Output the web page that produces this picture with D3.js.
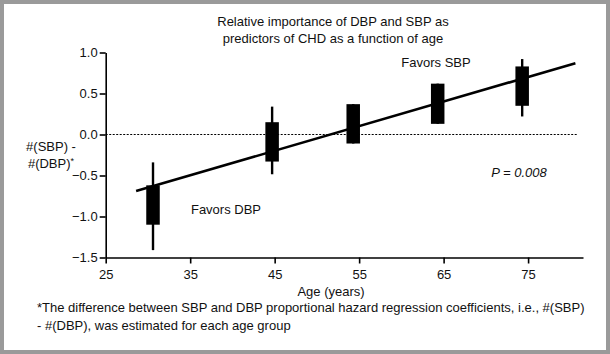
<!DOCTYPE html>
<html>
<head>
<meta charset="utf-8">
<script src="https://cdn.jsdelivr.net/npm/d3@7"></script>
<style>
    body { margin: 0; background: #fff; }
    text { font-family: "Liberation Sans", Arial, Helvetica, sans-serif; fill: #111; }
</style>
</head>
<body>
<div id="chart"></div>
<script>
// Age groups (midpoints) and the SBP - DBP coefficient difference
const ages = [30.6, 44.7, 54.3, 64.3, 74.3];
const boxLow = [-1.10, -0.33, -0.11, 0.13, 0.35];
const boxHigh = [-0.62, 0.15, 0.37, 0.62, 0.83];
const whiskerLow = [-1.41, -0.485, -0.11, 0.13, 0.22];
const whiskerHigh = [-0.34, 0.34, 0.37, 0.62, 0.92];

// Fitted trend line end points
const trendAges = [28.6, 80.6];
const trendValues = [-0.69, 0.87];

const xTicks = [25, 35, 45, 55, 65, 75];
const yTicks = [1.0, 0.5, 0.0, -0.5, -1.0, -1.5];

function main() {
    const width = 610, height = 354;
    const fontSize = "13px";

    const svg = d3.select("#chart")
        .append("svg")
        .attr("width", width)
        .attr("height", height);

    // Grey frame
    svg.append("rect")
        .attr("x", 2).attr("y", 2)
        .attr("width", width - 4).attr("height", height - 4)
        .attr("fill", "none")
        .attr("stroke", "#9a9a9a")
        .attr("stroke-width", 4);

    const x = d3.scaleLinear().domain([25, 81.5]).range([105.7, 583]);
    const y = d3.scaleLinear().domain([-1.5, 1.0]).range([257.5, 52.5]);

    // X axis
    const xAxis = svg.append("g")
        .attr("transform", `translate(0, ${y(-1.5)})`)
        .call(d3.axisBottom(x).tickValues(xTicks).tickSize(6).tickPadding(6).tickSizeOuter(0));
    // Y axis
    const yAxis = svg.append("g")
        .attr("transform", `translate(${x(25)}, 0)`)
        .call(d3.axisLeft(y).tickValues(yTicks).tickSize(6).tickPadding(2).tickSizeOuter(0)
            .tickFormat(d => d3.format(".1f")(d).replace("-", "\u2212")));

    [xAxis, yAxis].forEach(ax => {
        ax.select(".domain").attr("stroke", "#000").attr("stroke-width", 1.6);
        ax.selectAll(".tick line").attr("stroke", "#000").attr("stroke-width", 1.6);
        ax.selectAll(".tick text")
            .style("font-family", "'Liberation Sans', Arial, sans-serif")
            .style("font-size", fontSize)
            .attr("fill", "#111");
    });

    // Dotted zero line
    svg.append("line")
        .attr("x1", x(25)).attr("x2", 578)
        .attr("y1", y(0)).attr("y2", y(0))
        .attr("stroke", "#000")
        .attr("stroke-width", 1.2)
        .style("stroke-dasharray", "2,1.5");

    // Trend line
    svg.append("line")
        .attr("x1", x(trendAges[0])).attr("y1", y(trendValues[0]))
        .attr("x2", x(trendAges[1])).attr("y2", y(trendValues[1]))
        .attr("stroke", "#000")
        .attr("stroke-width", 2.6);

    const groups = ages.map((a, i) => ({
        age: a, lo: boxLow[i], hi: boxHigh[i], wlo: whiskerLow[i], whi: whiskerHigh[i]
    }));

    // Whiskers
    svg.append("g")
        .selectAll("line")
        .data(groups)
        .join("line")
        .attr("x1", d => x(d.age)).attr("x2", d => x(d.age))
        .attr("y1", d => y(d.whi)).attr("y2", d => y(d.wlo))
        .attr("stroke", "#000")
        .attr("stroke-width", 2.4);

    // Boxes
    const boxW = 13.5;
    svg.append("g")
        .selectAll("rect")
        .data(groups)
        .join("rect")
        .attr("x", d => x(d.age) - boxW / 2)
        .attr("width", boxW)
        .attr("y", d => y(d.hi))
        .attr("height", d => y(d.lo) - y(d.hi))
        .attr("fill", "#000");

    // Title
    svg.append("text")
        .attr("x", 333).attr("y", 26)
        .attr("text-anchor", "middle")
        .style("font-size", fontSize)
        .text("Relative importance of DBP and SBP as");
    svg.append("text")
        .attr("x", 333).attr("y", 43)
        .attr("text-anchor", "middle")
        .style("font-size", fontSize)
        .text("predictors of CHD as a function of age");

    // Annotations
    svg.append("text")
        .attr("x", 436).attr("y", 67)
        .attr("text-anchor", "middle")
        .style("font-size", fontSize)
        .text("Favors SBP");
    svg.append("text")
        .attr("x", 226).attr("y", 214)
        .attr("text-anchor", "middle")
        .style("font-size", fontSize)
        .text("Favors DBP");
    svg.append("text")
        .attr("x", 519).attr("y", 177)
        .attr("text-anchor", "middle")
        .style("font-size", fontSize)
        .style("font-style", "italic")
        .text("P = 0.008");

    // Y axis label
    svg.append("text")
        .attr("x", 51).attr("y", 151)
        .attr("text-anchor", "middle")
        .style("font-size", fontSize)
        .text("#(SBP) -");
    const yl2 = svg.append("text")
        .attr("x", 51).attr("y", 168)
        .attr("text-anchor", "middle")
        .style("font-size", fontSize);
    yl2.append("tspan").text("#(DBP)");
    yl2.append("tspan").attr("dy", -4).style("font-size", "9px").text("*");

    // X axis label
    svg.append("text")
        .attr("x", 331).attr("y", 296)
        .attr("text-anchor", "middle")
        .style("font-size", fontSize)
        .text("Age (years)");

    // Footnote
    svg.append("text")
        .attr("x", 37).attr("y", 312)
        .style("font-size", fontSize)
        .text("*The difference between SBP and DBP proportional hazard regression coefficients, i.e., #(SBP)");
    svg.append("text")
        .attr("x", 37).attr("y", 330)
        .style("font-size", fontSize)
        .text("- #(DBP), was estimated for each age group");
}

main();
</script>
</body>
</html>
